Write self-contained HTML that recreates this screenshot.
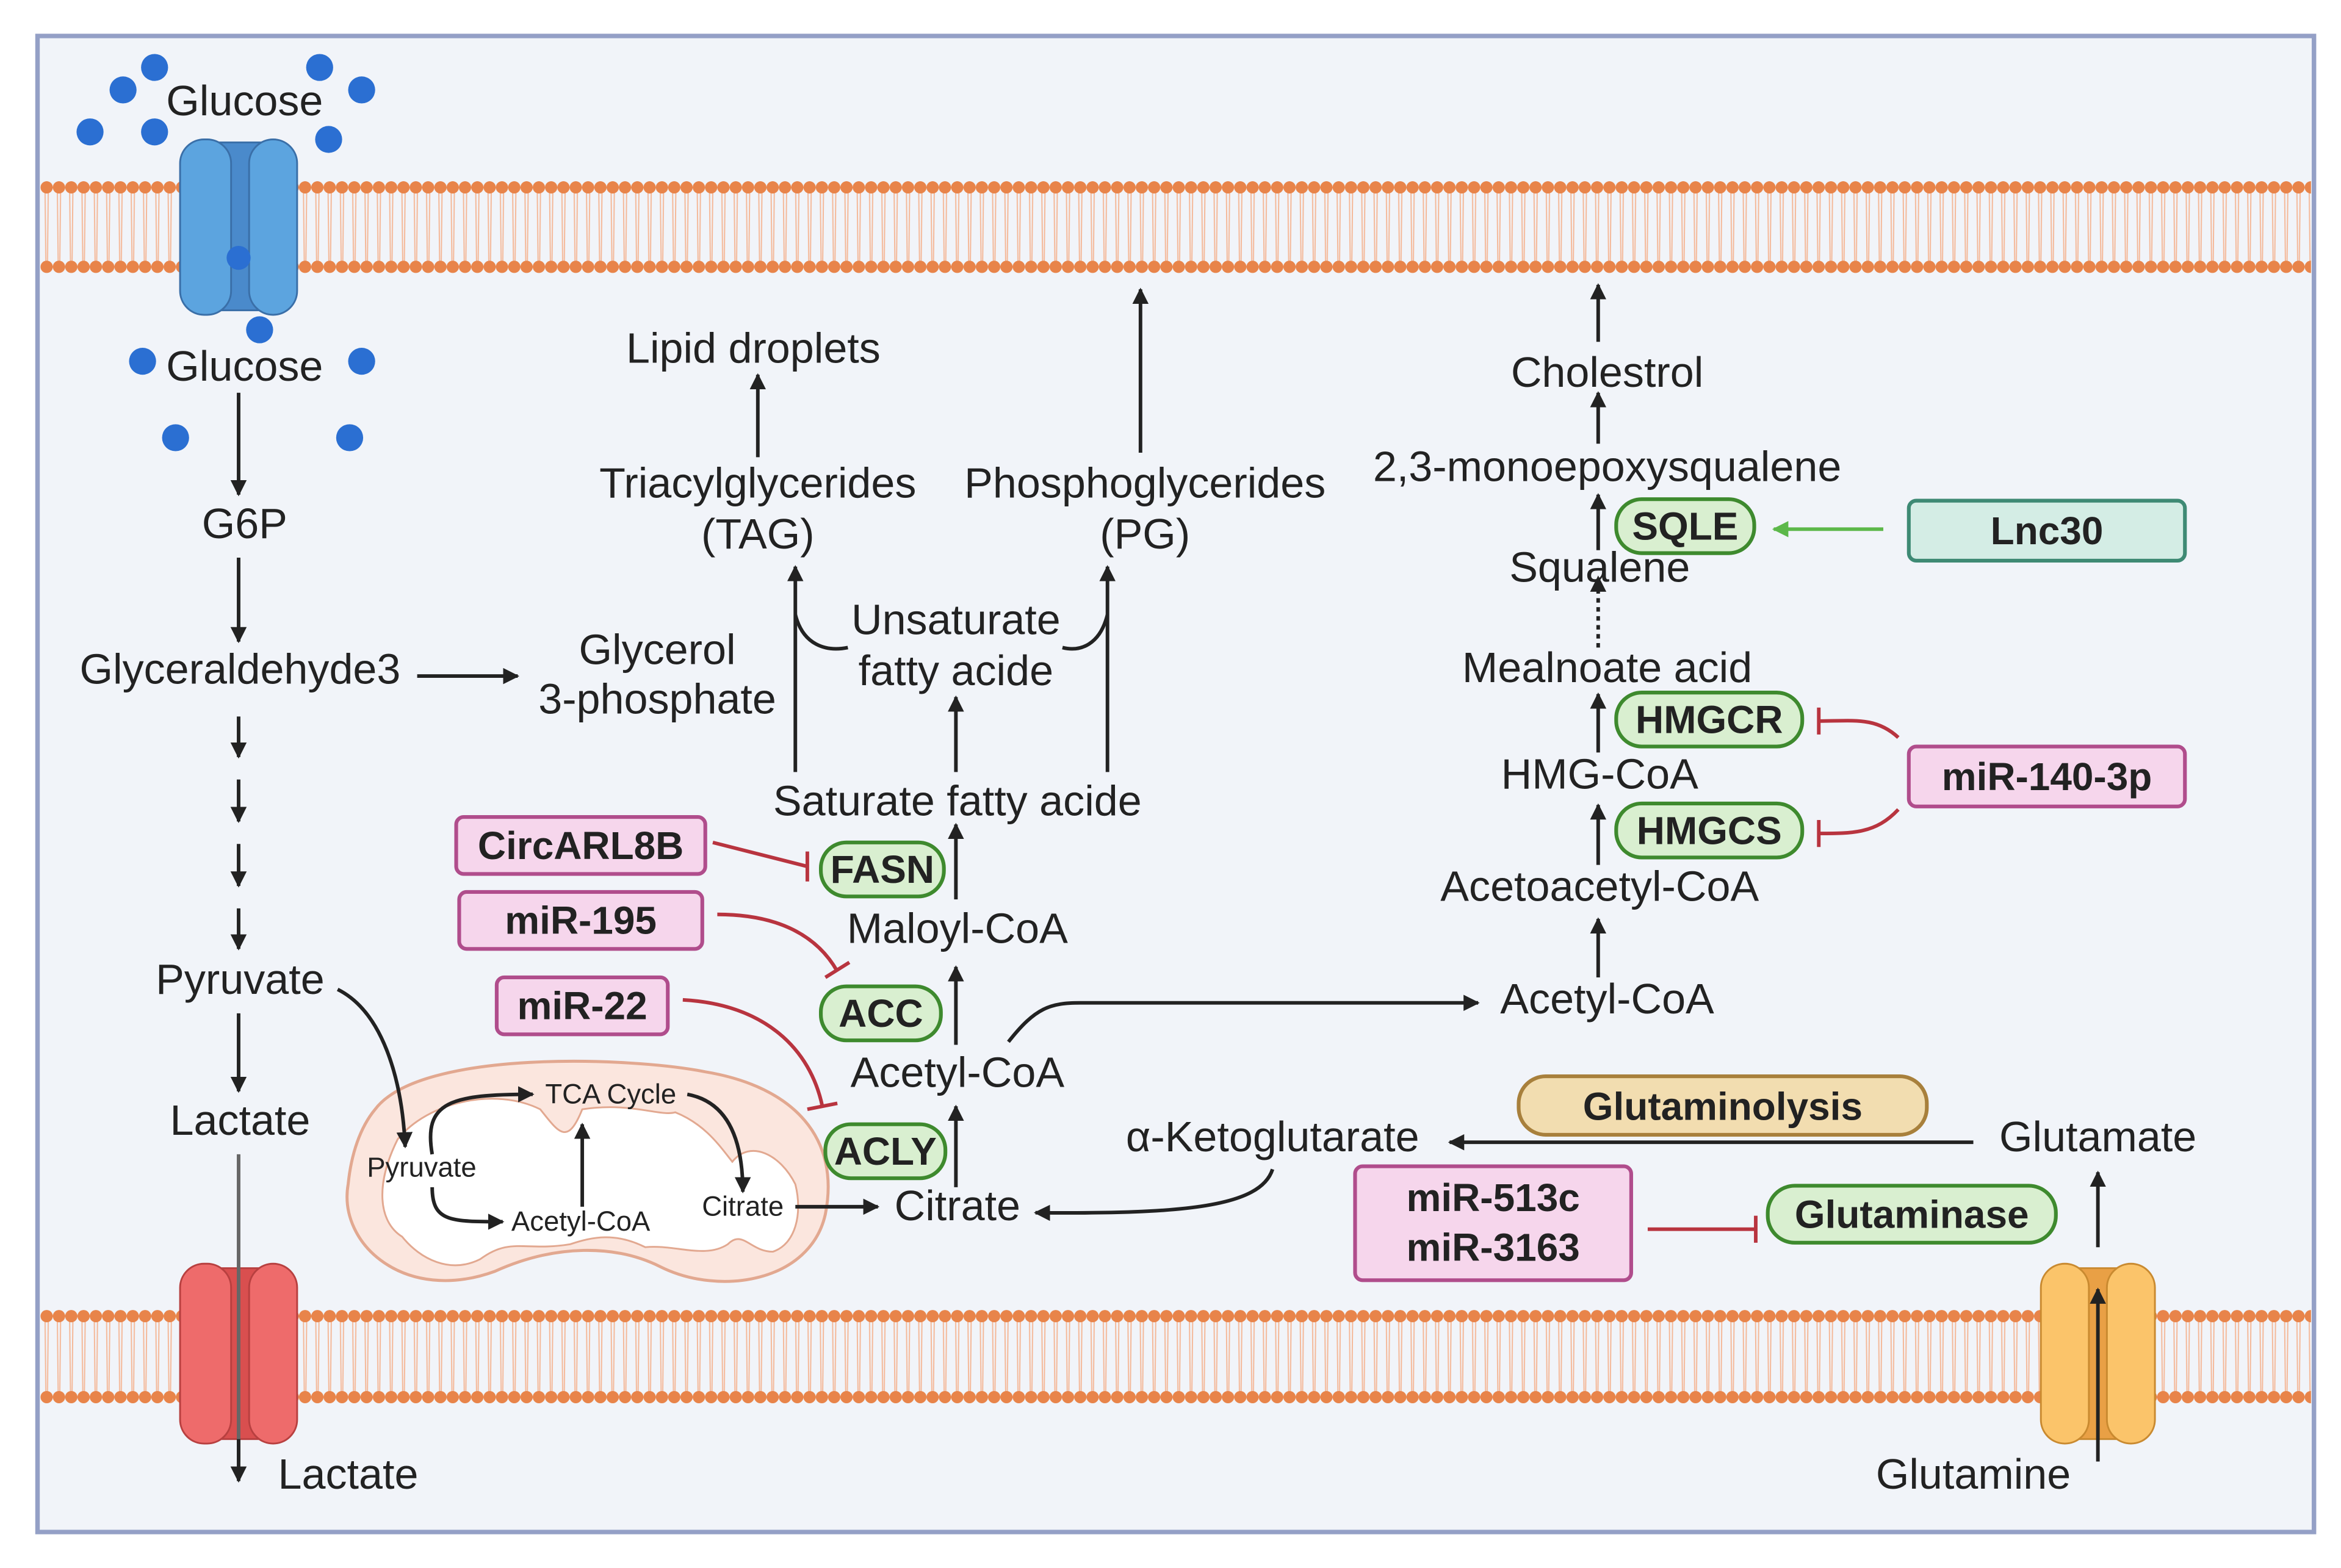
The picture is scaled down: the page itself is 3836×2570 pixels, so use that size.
<!DOCTYPE html>
<html><head><meta charset="utf-8"><style>
html,body{margin:0;padding:0;background:#fff;}
svg{display:block;}
text{font-family:"Liberation Sans",sans-serif;fill:#222;}
</style></head><body>
<svg width="3836" height="2570" viewBox="0 0 1560 1046" preserveAspectRatio="none" xmlns="http://www.w3.org/2000/svg">
<defs>
<pattern id="mem" x="27" y="0" width="8.2" height="1046" patternUnits="userSpaceOnUse">
<line x1="3" y1="125" x2="3.6" y2="178" stroke="#f4b898" stroke-width="0.8"/>
<line x1="5.2" y1="125" x2="4.6" y2="178" stroke="#f4b898" stroke-width="0.8"/>
<circle cx="4.1" cy="125" r="4.1" fill="#e8844a"/>
<circle cx="4.1" cy="178" r="4.1" fill="#e8844a"/>
<line x1="3" y1="878" x2="3.6" y2="932" stroke="#f4b898" stroke-width="0.8"/>
<line x1="5.2" y1="878" x2="4.6" y2="932" stroke="#f4b898" stroke-width="0.8"/>
<circle cx="4.1" cy="878" r="4.1" fill="#e8844a"/>
<circle cx="4.1" cy="932" r="4.1" fill="#e8844a"/>
</pattern>
<marker id="ah" viewBox="0 0 10 10" refX="9" refY="5" markerWidth="4.5" markerHeight="4.5" orient="auto-start-reverse"><path d="M0,0L10,5L0,10z" fill="#222"/></marker>
<marker id="ahg" viewBox="0 0 10 10" refX="9" refY="5" markerWidth="4.5" markerHeight="4.5" orient="auto"><path d="M0,0L10,5L0,10z" fill="#5cb84a"/></marker>
</defs>
<rect x="0" y="0" width="1560" height="1046" fill="#fff"/>
<rect x="25" y="24" width="1517" height="998" fill="#f1f4f9" stroke="#94a0c6" stroke-width="3"/>
<rect x="27" y="118" width="1513" height="66" fill="url(#mem)"/>
<rect x="27" y="871" width="1513" height="66" fill="url(#mem)"/>

<g stroke="#3a6fa8" stroke-width="1.2">
<rect x="143" y="95" width="34" height="112" fill="#4a8acb"/>
<rect x="120" y="93" width="34" height="117" rx="16" fill="#5ca4df"/>
<rect x="166" y="93" width="32" height="117" rx="16" fill="#5ca4df"/>
</g>
<g fill="#2b6fd2">
<circle cx="159" cy="172" r="8"/>
<circle cx="103" cy="45" r="9"/><circle cx="213" cy="45" r="9"/><circle cx="82" cy="60" r="9"/><circle cx="241" cy="60" r="9"/>
<circle cx="60" cy="88" r="9"/><circle cx="103" cy="88" r="9"/><circle cx="219" cy="93" r="9"/>
<circle cx="173" cy="220" r="9"/><circle cx="95" cy="241" r="9"/><circle cx="241" cy="241" r="9"/>
<circle cx="117" cy="292" r="9"/><circle cx="233" cy="292" r="9"/>
</g>
<g stroke="#b84040" stroke-width="1.2">
<rect x="143" y="846" width="34" height="114" fill="#d94f4f"/>
<rect x="120" y="843" width="34" height="120" rx="16" fill="#ee6b6b"/>
<rect x="166" y="843" width="32" height="120" rx="16" fill="#ee6b6b"/>
</g>
<g stroke="#c98a30" stroke-width="1.2">
<rect x="1382" y="846" width="34" height="114" fill="#e9a045"/>
<rect x="1360" y="843" width="32" height="120" rx="16" fill="#fbc46a"/>
<rect x="1404" y="843" width="32" height="120" rx="16" fill="#fbc46a"/>
</g>

<path d="M250,740 C280,700 420,705 470,715 C530,725 560,760 550,810 C540,855 480,865 440,845 C410,830 370,830 330,848 C270,870 225,830 232,790 C234,770 240,752 250,740Z" fill="#fbe6de" stroke="#e2a890" stroke-width="2"/>
<path d="M265,760 C285,735 330,725 360,740 C372,755 378,765 388,740 C420,735 440,745 450,742 C470,750 480,765 488,775 C500,760 520,770 530,790 C535,810 530,830 515,835 C500,835 495,820 485,830 C470,840 450,830 430,832 C410,822 395,825 380,830 C350,835 340,825 320,840 C300,850 280,840 268,825 C252,815 250,790 265,760Z" fill="#fff" stroke="#e2a890" stroke-width="1.2"/>

<g font-size="18.5" text-anchor="middle">
<text x="407" y="736">TCA Cycle</text>
<text x="281" y="785">Pyruvate</text>
<text x="387" y="821">Acetyl-CoA</text>
<text x="495" y="811">Citrate</text>
</g>
<g stroke="#222" stroke-width="2.4" fill="none" marker-end="url(#ah)">
<path d="M288,770 C282,735 300,730 355,730"/>
<path d="M288,792 C288,815 300,815 335,815"/>
<path d="M388,805 L388,750"/>
<path d="M458,730 C485,735 495,760 495,795"/>
<path d="M225,660 C255,675 268,720 270,765"/>
<path d="M530,805 L585,805"/>
</g>

<g stroke="#222" stroke-width="2.4" fill="none" marker-end="url(#ah)">
<line x1="159" y1="262" x2="159" y2="330"/>
<line x1="159" y1="372" x2="159" y2="428"/>
<line x1="278" y1="451" x2="345" y2="451"/>
<line x1="159" y1="478" x2="159" y2="505"/>
<line x1="159" y1="520" x2="159" y2="548"/>
<line x1="159" y1="563" x2="159" y2="591"/>
<line x1="159" y1="606" x2="159" y2="633"/>
<line x1="159" y1="676" x2="159" y2="728"/>
<line x1="637" y1="792" x2="637" y2="738"/>
<line x1="637" y1="697" x2="637" y2="645"/>
<line x1="637" y1="600" x2="637" y2="550"/>
<line x1="637" y1="515" x2="637" y2="465"/>
<line x1="530" y1="515" x2="530" y2="378"/>
<line x1="738" y1="515" x2="738" y2="378"/>
<line x1="505" y1="305" x2="505" y2="250"/>
<line x1="760" y1="302" x2="760" y2="193"/>
<path d="M672,695 C690,672 700,669 720,669 L985,669"/>
<line x1="1065" y1="652" x2="1065" y2="613"/>
<line x1="1065" y1="577" x2="1065" y2="537"/>
<line x1="1065" y1="502" x2="1065" y2="463"/>
<line x1="1065" y1="432" x2="1065" y2="385" stroke-dasharray="3,3"/>
<line x1="1065" y1="367" x2="1065" y2="330"/>
<line x1="1065" y1="296" x2="1065" y2="262"/>
<line x1="1065" y1="228" x2="1065" y2="190"/>
<line x1="1315" y1="762" x2="966" y2="762"/>
<path d="M848,780 C840,805 790,810 690,809"/>
<line x1="1398" y1="832" x2="1398" y2="782"/>
<line x1="1398" y1="975" x2="1398" y2="860"/>
</g>
<line x1="159" y1="770" x2="159" y2="975" stroke="#666" stroke-width="2.4"/>
<line x1="159" y1="960" x2="159" y2="988" stroke="#222" stroke-width="2.4" marker-end="url(#ah)"/>
<g stroke="#222" stroke-width="2.4" fill="none">
<path d="M530,410 C535,430 550,435 565,432"/>
<path d="M738,410 C733,430 720,435 708,432"/>
</g>

<g font-size="28.5" text-anchor="middle">
<text x="163" y="77">Glucose</text>
<text x="163" y="254">Glucose</text>
<text x="163" y="359">G6P</text>
<text x="160" y="456">Glyceraldehyde3</text>
<text x="438" y="443">Glycerol</text>
<text x="438" y="476">3-phosphate</text>
<text x="160" y="663">Pyruvate</text>
<text x="160" y="757">Lactate</text>
<text x="232" y="993">Lactate</text>
<text x="638" y="814">Citrate</text>
<text x="638" y="725">Acetyl-CoA</text>
<text x="638" y="629">Maloyl-CoA</text>
<text x="638" y="544">Saturate fatty acide</text>
<text x="637" y="423">Unsaturate</text>
<text x="637" y="457">fatty acide</text>
<text x="505" y="332">Triacylglycerides</text>
<text x="505" y="366">(TAG)</text>
<text x="763" y="332">Phosphoglycerides</text>
<text x="763" y="366">(PG)</text>
<text x="502" y="242">Lipid droplets</text>
<text x="1071" y="258">Cholestrol</text>
<text x="1071" y="321">2,3-monoepoxysqualene</text>
<text x="1066" y="388">Squalene</text>
<text x="1071" y="455">Mealnoate acid</text>
<text x="1066" y="526">HMG-CoA</text>
<text x="1066" y="601">Acetoacetyl-CoA</text>
<text x="1071" y="676">Acetyl-CoA</text>
<text x="848" y="768">α-Ketoglutarate</text>
<text x="1398" y="768">Glutamate</text>
<text x="1315" y="993">Glutamine</text>
</g>

<g fill="#d9efd0" stroke="#3e8a2e" stroke-width="2.5">
<rect x="547" y="562" width="82" height="36" rx="17"/>
<rect x="547" y="658" width="80" height="36" rx="17"/>
<rect x="550" y="750" width="80" height="36" rx="17"/>
<rect x="1077" y="333" width="92" height="36" rx="17"/>
<rect x="1077" y="462" width="124" height="36" rx="17"/>
<rect x="1077" y="536" width="124" height="36" rx="17"/>
<rect x="1178" y="791" width="192" height="38" rx="18"/>
</g>
<g font-size="26" text-anchor="middle" font-weight="bold">
<text x="588" y="589">FASN</text>
<text x="587" y="685">ACC</text>
<text x="590" y="777">ACLY</text>
<text x="1123" y="360">SQLE</text>
<text x="1139" y="489">HMGCR</text>
<text x="1139" y="563">HMGCS</text>
<text x="1274" y="819">Glutaminase</text>
</g>

<g fill="#f6d6ec" stroke="#b04d8c" stroke-width="2.5">
<rect x="304" y="545" width="166" height="38" rx="5"/>
<rect x="306" y="595" width="162" height="38" rx="5"/>
<rect x="331" y="652" width="114" height="38" rx="5"/>
<rect x="1272" y="498" width="184" height="40" rx="5"/>
<rect x="903" y="778" width="184" height="76" rx="5"/>
</g>
<rect x="1272" y="334" width="184" height="40" rx="5" fill="#d4ede5" stroke="#3e8a74" stroke-width="2.5"/>
<rect x="1012" y="718" width="272" height="39" rx="18" fill="#f2ddb0" stroke="#a8803c" stroke-width="2.5"/>
<g font-size="26" text-anchor="middle" font-weight="bold">
<text x="387" y="573">CircARL8B</text>
<text x="387" y="623">miR-195</text>
<text x="388" y="680">miR-22</text>
<text x="1364" y="527">miR-140-3p</text>
<text x="1364" y="363">Lnc30</text>
<text x="995" y="808">miR-513c</text>
<text x="995" y="841">miR-3163</text>
<text x="1148" y="747">Glutaminolysis</text>
</g>

<g stroke="#b8343f" stroke-width="2.4" fill="none">
<path d="M475,562 L538,578"/><line x1="538" y1="568" x2="538" y2="588"/>
<path d="M478,610 C520,610 545,625 558,648"/><line x1="550" y1="652" x2="566" y2="642"/>
<path d="M455,667 C510,670 540,700 548,738"/><line x1="538" y1="740" x2="558" y2="736"/>
<path d="M1265,492 C1250,478 1235,481 1212,481"/><line x1="1212" y1="472" x2="1212" y2="490"/>
<path d="M1265,540 C1250,556 1235,556 1212,556"/><line x1="1212" y1="547" x2="1212" y2="565"/>
<line x1="1098" y1="820" x2="1170" y2="820"/><line x1="1170" y1="811" x2="1170" y2="829"/>
</g>
<line x1="1255" y1="353" x2="1182" y2="353" stroke="#5cb84a" stroke-width="2.4" marker-end="url(#ahg)"/>
</svg>
</body></html>
